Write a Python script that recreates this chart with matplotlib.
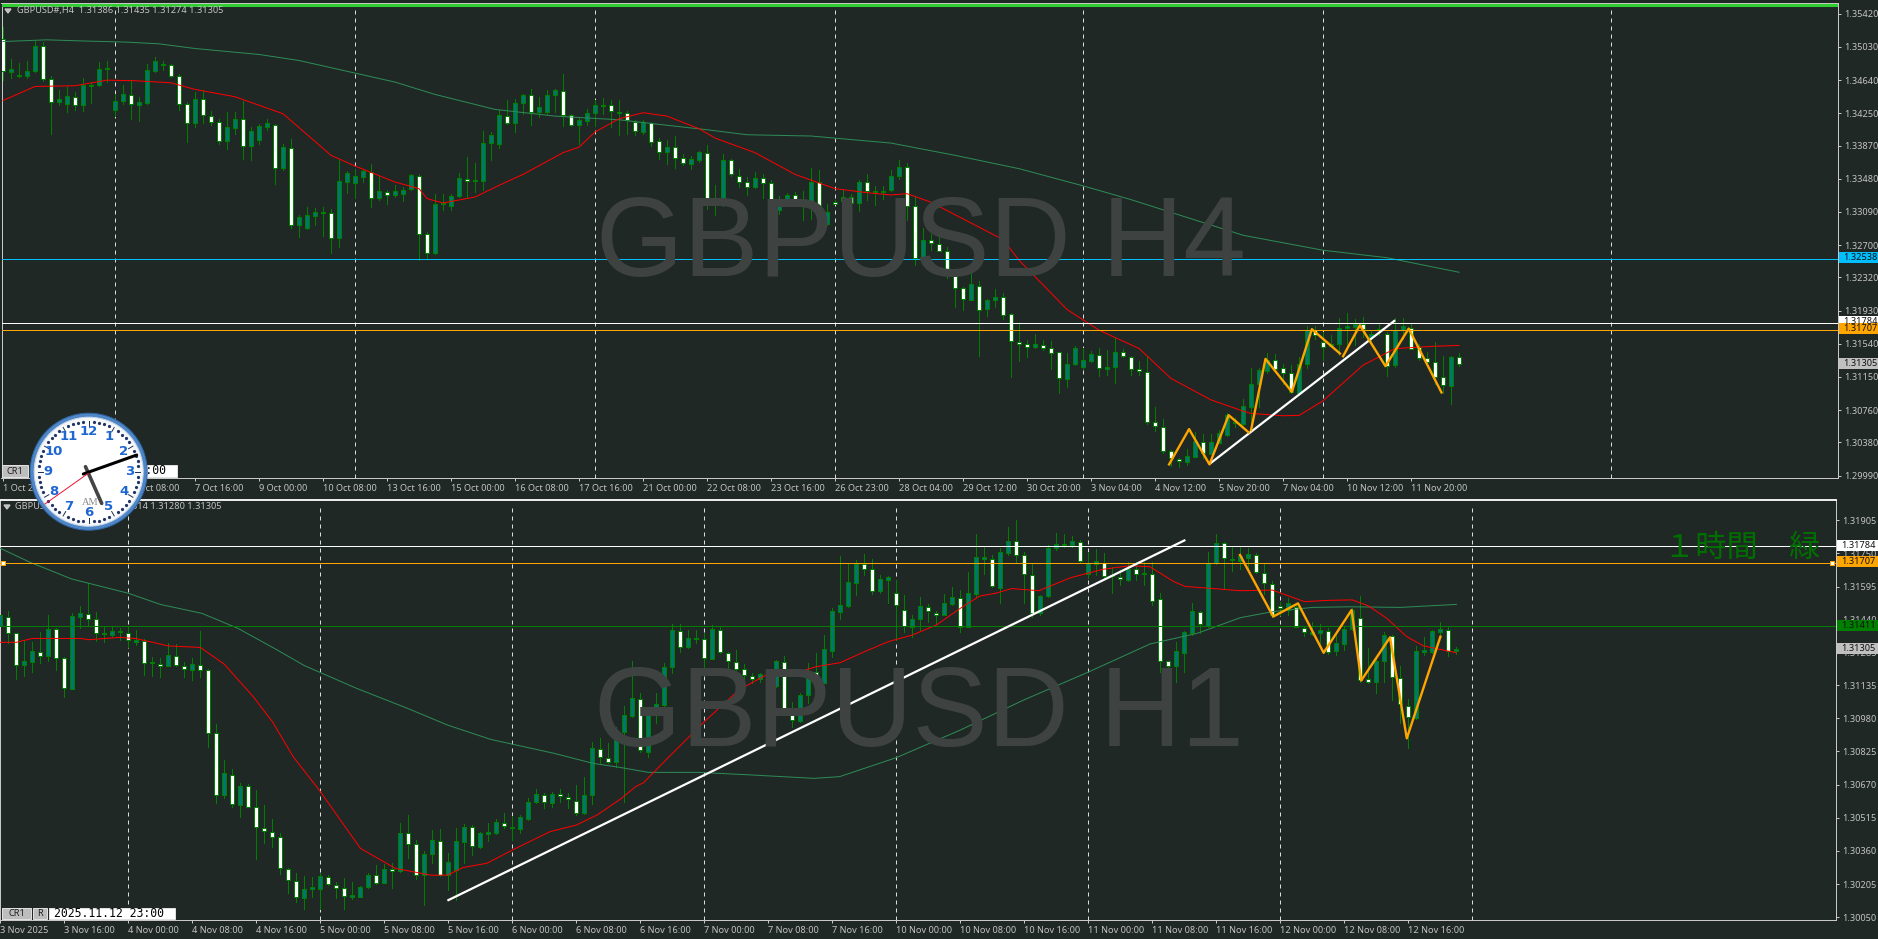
import numpy as np
import matplotlib
matplotlib.use("Agg")
import matplotlib.pyplot as plt
from matplotlib.patches import Circle, Rectangle

W, H = 1878, 939
BG = '#1F2825'
AXC = '#C8C8C8'
LBL = '#C4C4C4'
WICK = '#007F00'
TEAL = '#00786E'
FONT = ['Noto Sans', 'DejaVu Sans']
PX = 0.72  # one pixel in points at dpi 100
FS = 6.6

plt.rcParams['font.family'] = FONT

# all OHLC values are in points above 1.00000
h4_high = [35263,34891,34844,34871,35098,35087,34683,34519,34558,34499,
34668,34617,34848,34860,34480,34578,34644,34441,34832,34910,
34864,34824,34707,34382,34499,34519,34276,34186,34264,34264,
34390,34088,34127,34186,34127,33893,33951,33051,33149,33141,
33149,33129,33697,33568,33599,33599,33658,33513,33344,33403,
33384,33532,33540,32855,33305,33305,33305,33548,33736,33669,
34037,34030,34284,34401,34421,34480,34539,34441,34527,34539,
34715,34237,34206,34304,34401,34433,34409,34401,34272,34167,
34167,34143,33963,33940,33979,33767,33744,33806,33873,33403,
33767,33716,33599,33501,33564,33540,33470,33282,33313,33325,
33333,33611,33587,33180,33227,33344,33305,33470,33532,33391,
33391,33579,33697,33669,33278,32906,32835,32804,32679,32405,
32209,32471,32276,32072,32189,32142,31907,31798,31590,31653,
31583,31571,31446,31426,31512,31485,31457,31485,31465,31614,
31477,31402,31340,31395,30800,30651,30290,30200,30302,30506,
30474,30478,30525,30721,30662,30889,31250,31250,31426,31418,
31300,31289,31387,31747,31747,31680,31641,31845,31907,31837,
31856,31700,31778,31680,31849,31845,31786,31543,31445,31563,
31394,31394,31435]
h4_low = [34636,34668,34676,34668,34734,34629,34002,34343,34264,34284,
34272,34370,34575,34617,34217,34362,34186,34159,34365,34738,
34754,34676,34284,33912,34088,34139,34108,33885,33826,34010,
33712,33697,33885,34049,33415,33587,32902,32796,32894,32933,
32804,32608,32679,33313,33258,33442,33149,33235,33180,33266,
33215,33344,32522,32542,32601,33110,33117,33266,33266,33325,
33344,33697,33846,34127,34030,34245,34108,34206,34245,34264,
34096,34096,33893,34108,34096,34245,34088,33990,34010,33990,
34010,33865,33712,33658,33607,33638,33591,33673,33121,33051,
33160,33513,33384,33286,33372,33251,33090,33070,33168,33200,
32992,33012,32875,32933,33180,33157,33110,33102,33235,33172,
33239,33337,33478,32992,32463,32522,32640,32632,32319,31974,
31943,32052,31395,31872,31974,31833,31152,31336,31387,31485,
31465,31246,30964,31034,31293,31246,31328,31160,31171,31081,
31379,31171,31171,30592,30518,30259,30102,30095,30114,30204,
30192,30239,30369,30459,30557,30584,30525,30799,31199,31238,
31066,30956,30936,31261,31602,31347,31504,31406,31504,31524,
31621,31543,31641,31159,31269,31602,31473,31347,31308,31073,
30956,30831,31274]
h4_open = [35118,34734,34687,34687,34746,35044,34656,34382,34358,34445,
34347,34570,34582,34766,34288,34390,34468,34343,34370,34746,
34813,34820,34691,34362,34135,34421,34217,34151,33924,34077,
34186,33865,33936,34088,34112,33607,33846,32933,32902,33043,
33074,33082,32785,33442,33431,33501,33560,33251,33329,33290,
33301,33356,33517,32835,32608,33180,33160,33278,33481,33450,
33450,33900,33889,34221,34135,34370,34468,34264,34264,34460,
34515,34229,34116,34159,34253,34339,34343,34253,34253,34151,
34030,34135,33924,33791,33853,33724,33654,33701,33783,33196,
33231,33705,33517,33446,33380,33493,33431,33113,33176,33290,
33200,33200,33442,32949,33211,33219,33270,33196,33442,33321,
33325,33348,33513,33618,33156,32546,32757,32714,32632,32338,
32197,32056,32221,31951,32056,32095,31896,31563,31532,31504,
31528,31493,31438,31128,31305,31262,31340,31414,31246,31262,
31446,31387,31238,31211,30623,30565,30283,30189,30149,30212,
30388,30247,30373,30467,30604,30596,30795,31069,31222,31347,
31250,31191,30956,31308,31700,31563,31512,31543,31727,31739,
31778,31621,31700,31661,31289,31700,31727,31504,31375,31328,
31152,31046,31386]
h4_close = [34742,34766,34703,34750,35047,34656,34386,34413,34448,34351,
34582,34582,34773,34785,34398,34472,34362,34378,34754,34860,
34824,34691,34358,34139,34421,34229,34147,33928,34084,34186,
33869,34037,34096,34131,33611,33849,32937,33027,33051,33086,
33086,32789,33450,33544,33509,33568,33258,33341,33294,33333,
33352,33521,32835,32608,33180,33200,33282,33485,33458,33462,
33904,33998,34225,34135,34374,34468,34268,34327,34468,34519,
34229,34116,34174,34257,34343,34351,34272,34264,34167,34045,
34143,33916,33799,33857,33728,33669,33709,33791,33200,33231,
33705,33536,33446,33388,33493,33431,33117,33243,33294,33211,
33211,33446,32957,33094,33188,33270,33200,33446,33341,33341,
33341,33517,33622,33164,32553,32765,32730,32636,32346,32201,
32064,32248,31943,32060,32095,31884,31567,31532,31508,31532,
31496,31430,31132,31308,31496,31344,31418,31250,31262,31449,
31391,31242,31218,30623,30569,30283,30192,30161,30216,30392,
30251,30380,30486,30701,30623,30803,31073,31230,31347,31242,
31191,30975,31308,31700,31641,31508,31543,31731,31747,31778,
31719,31661,31719,31277,31700,31747,31484,31375,31328,31152,
31050,31390,31305]

h1_high = [31486,31483,31380,31346,31338,31383,31462,31400,31268,31470,
31505,31610,31478,31408,31408,31400,31405,31392,31349,31265,
31260,31333,31327,31244,31260,31388,31209,30953,30785,30741,
30676,30671,30645,30574,30507,30442,30278,30258,30243,30239,
30255,30247,30216,30232,30216,30196,30258,30294,30299,30302,
30489,30528,30411,30361,30458,30461,30349,30465,30486,30481,
30450,30492,30509,30535,30523,30528,30606,30648,30629,30637,
30648,30632,30668,30707,30867,30886,30863,30937,31037,31247,
31096,31015,31096,31240,31420,31420,31392,31392,31377,31416,
31408,31291,31299,31233,31190,31190,31198,31252,31271,31057,
31096,31237,31283,31369,31494,31738,31699,31720,31748,31723,
31648,31645,31626,31556,31462,31545,31514,31481,31561,31595,
31579,31665,31840,31782,31743,31774,31872,31907,31759,31699,
31556,31790,31844,31841,31832,31813,31759,31769,31751,31688,
31673,31712,31712,31712,31709,31567,31249,31338,31389,31517,
31483,31759,31840,31805,31782,31779,31774,31751,31704,31621,
31525,31544,31517,31408,31431,31420,31400,31385,31411,31494,
31551,31307,31255,31385,31369,31224,31068,31318,31358,31392,
31431,31408,31314]
h1_low = [31385,31333,31163,31177,31198,31237,31249,31205,31078,31115,
31400,31416,31343,31338,31361,31346,31314,31322,31182,31177,
31171,31224,31224,31174,31159,31174,30847,30585,30606,30567,
30520,30564,30322,30395,30380,30252,30162,30123,30090,30146,
30090,30201,30138,30090,30134,30144,30185,30205,30208,30185,
30263,30325,30229,30107,30302,30243,30177,30130,30302,30341,
30372,30408,30440,30465,30411,30442,30504,30585,30562,30567,
30590,30559,30528,30532,30579,30769,30769,30754,30590,30987,
30824,30800,30956,31015,31193,31291,31310,31333,31213,31255,
31286,31213,31205,31151,31143,31151,31131,31128,31003,30941,
30964,31050,31143,31143,31268,31442,31501,31556,31649,31561,
31564,31517,31346,31385,31358,31392,31431,31420,31462,31509,
31385,31405,31548,31654,31592,31517,31743,31704,31517,31452,
31462,31548,31766,31782,31782,31712,31634,31649,31639,31564,
31603,31623,31626,31603,31509,31198,31198,31151,31198,31369,
31377,31408,31701,31582,31670,31677,31681,31657,31561,31455,
31462,31462,31405,31364,31369,31330,31279,31276,31299,31392,
31151,31146,31099,31151,31065,30956,30839,30975,31276,31286,
31364,31271,31280]
h1_open = [31411,31455,31377,31230,31244,31290,31272,31396,31260,31118,
31455,31469,31442,31380,31371,31385,31380,31338,31339,31237,
31235,31226,31272,31226,31207,31230,31204,30913,30620,30716,
30576,30662,30567,30468,30450,30423,30277,30221,30141,30180,
30183,30239,30202,30185,30146,30146,30190,30249,30211,30274,
30264,30442,30391,30247,30345,30408,30247,30271,30403,30473,
30380,30440,30442,30492,30465,30464,30511,30588,30623,30585,
30627,30613,30595,30539,30623,30838,30796,30777,30914,30992,
31071,30824,31015,31042,31218,31389,31314,31349,31352,31258,
31394,31286,31244,31210,31179,31162,31180,31132,31244,31018,
30969,31087,31198,31146,31296,31478,31506,31614,31701,31676,
31573,31628,31567,31487,31405,31442,31501,31473,31464,31515,
31544,31408,31562,31726,31726,31590,31754,31807,31743,31651,
31470,31553,31777,31790,31790,31805,31654,31699,31704,31645,
31642,31626,31676,31653,31654,31539,31249,31226,31286,31380,
31478,31410,31704,31801,31726,31716,31730,31744,31660,31609,
31506,31486,31498,31403,31374,31377,31389,31296,31329,31399,
31450,31162,31151,31249,31366,31170,31039,30980,31291,31291,
31385,31392,31296]
h1_close = [31462,31377,31227,31246,31293,31269,31396,31260,31120,31456,
31470,31444,31378,31372,31386,31388,31346,31346,31237,31241,
31224,31274,31227,31209,31232,31204,30909,30620,30722,30578,
30662,30567,30470,30451,30423,30278,30222,30143,30182,30190,
30241,30204,30185,30148,30154,30190,30247,30208,30274,30264,
30442,30392,30246,30345,30412,30246,30310,30405,30473,30383,
30442,30447,30493,30476,30470,30517,30588,30624,30588,30624,
30615,30602,30537,30620,30839,30797,30777,30905,30995,31073,
30830,31011,31045,31218,31391,31313,31353,31355,31260,31396,
31290,31246,31209,31180,31162,31185,31134,31246,31023,30972,
31087,31199,31149,31302,31480,31508,31615,31701,31677,31573,
31629,31639,31509,31411,31442,31503,31480,31462,31517,31545,
31408,31564,31732,31732,31598,31755,31807,31743,31654,31470,
31553,31777,31793,31794,31807,31715,31704,31713,31643,31649,
31631,31676,31654,31657,31528,31249,31226,31293,31381,31480,
31419,31704,31797,31727,31720,31738,31746,31662,31610,31462,
31494,31517,31408,31381,31385,31391,31291,31330,31399,31486,
31159,31151,31249,31367,31171,31047,30984,31296,31299,31386,
31396,31294,31305]

# moving averages, read at these bars
h4_red_x = [0,4,9,13,16.5,21,24,29,35,41,44,49,52,53,55,59,62,65,70,72,74,77,80,83,87,89,94,99,104,108,111,113,116,125,127,133,137,142,146,151,155,156,160,162,165,170,174,179,182]
h4_red_y = [34401,34566,34574,34640,34633,34609,34531,34445,34245,33756,33630,33442,33364,33247,33196,33266,33403,33532,33787,33853,34030,34186,34257,34217,34069,33959,33787,33532,33364,33317,33290,33305,33204,32765,32522,31943,31700,31485,31132,30880,30749,30721,30694,30698,30870,31289,31484,31512,31520]
h4_grn_x = [0,5.5,9.5,15.5,19.5,24,32,37,44,49,54,61.5,69,77,82,88,93,101,111,119,127,135,141,155,165,173,182]
h4_grn_y = [35094,35114,35102,35087,35067,35012,34942,34871,34723,34617,34472,34296,34217,34174,34120,34057,33998,33983,33900,33756,33599,33397,33235,32816,32640,32552,32381]
h1_red_x = [0,2,4,10,11,15,17,21,25,28,31.6,34,36.6,40,42.5,45,49.4,53.9,55.9,57.8,60.8,64,68.7,72,74.6,77.5,79.4,80.4,83.4,88,92.3,95.7,97.2,99.2,102,105,108,111,114,117,120,122.4,124.4,126.4,129.8,133.8,137.8,141.2,143.7,146.7,148.1,151.6,155,159,163,166,169,171,173.3,175.8,177.9,182]
h1_red_y = [31335,31335,31353,31353,31347,31358,31352,31318,31311,31232,31081,30964,30800,30637,30504,30372,30278,30246,30247,30282,30302,30364,30450,30481,30528,30602,30660,30679,30793,30964,31112,31182,31196,31190,31221,31240,31291,31338,31369,31416,31494,31551,31564,31586,31576,31637,31676,31693,31688,31618,31596,31586,31576,31579,31525,31531,31533,31505,31447,31361,31318,31286]
h1_grn_x = [0,3.7,8.9,16,20,25.2,29.7,34.6,38,44.5,50.9,55.9,61.3,69.2,74.1,77.5,81,87.3,93.8,101.7,104.9,112,120,127.9,131.8,136,143.7,149.6,155,159,164,168.8,175,182]
h1_grn_y = [31774,31709,31631,31564,31512,31470,31400,31299,31226,31120,31026,30948,30881,30816,30769,30750,30727,30727,30715,30699,30707,30796,30925,31065,31128,31196,31327,31377,31450,31478,31498,31501,31498,31512]

# zigzags and trendlines
h4_zig1_x = [145.75,148.25,150.8,153.2,155.7]
h4_zig1_y = [30122,30537,30122,30701,30498]
h4_zig2_x = [156,157.8,161.1,163.6,167.1]
h4_zig2_y = [30525,31363,30975,31712,31426]
h4_zig3_x = [167.5,169.6,172.8,175.7,179.8]
h4_zig3_y = [31394,31758,31277,31719,30968]
h4_trend_x = [150.9,173.9]
h4_trend_y = [30134,31809]
h1_zig_x = [154.95,159.1,162.2,165.4,168.9,170.1,173.7,175.8,180]
h1_zig_y = [31743,31455,31517,31286,31486,31156,31358,30886,31361]
h1_trend_x = [56,148]
h1_trend_y = [30130,31811]

h4_levels = [1.32538, 1.31784, 1.31707]
h1_levels = [1.31784, 1.31707, 1.31411]

h4_yticks = [1.35420,1.35030,1.34640,1.34250,1.33870,1.33480,1.33090,1.32700,1.32320,1.31930,1.31540,1.31150,1.30760,1.30380,1.29990]
h1_yticks = [1.31905,1.31750,1.31595,1.31440,1.31285,1.31135,1.30980,1.30825,1.30670,1.30515,1.30360,1.30205,1.30050]

h4_xticks = [0,8,16,24,32,40,48,56,64,72,80,88,96,104,112,120,128,136,144,152,160,168,176]
h4_xlabels = ['1 Oct 2025','2 Oct 16:00','6 Oct 08:00','7 Oct 16:00','9 Oct 00:00','10 Oct 08:00','13 Oct 16:00','15 Oct 00:00','16 Oct 08:00','17 Oct 16:00','21 Oct 00:00','22 Oct 08:00','23 Oct 16:00','26 Oct 23:00','28 Oct 04:00','29 Oct 12:00','30 Oct 20:00','3 Nov 04:00','4 Nov 12:00','5 Nov 20:00','7 Nov 04:00','10 Nov 12:00','11 Nov 20:00']
h4_vlines = [14,44,74,104,135,165,201]

h1_xticks = list(range(0, 184, 8))
h1_xlabels = ['3 Nov 2025','3 Nov 16:00','4 Nov 00:00','4 Nov 08:00','4 Nov 16:00','5 Nov 00:00','5 Nov 08:00','5 Nov 16:00','6 Nov 00:00','6 Nov 08:00','6 Nov 16:00','7 Nov 00:00','7 Nov 08:00','7 Nov 16:00','10 Nov 00:00','10 Nov 08:00','10 Nov 16:00','11 Nov 00:00','11 Nov 08:00','11 Nov 16:00','12 Nov 00:00','12 Nov 08:00','12 Nov 16:00']
h1_vlines = [16,40,64,88,112,136,160,184]


def pts(values):
    return 1 + np.array(values) / 1e5


def make_axes(fig, left, right, top, bottom, xlim, ylim):
    ax = fig.add_axes([left / W, 1 - bottom / H, (right - left) / W, (bottom - top) / H])
    ax.set_facecolor(BG)
    ax.set_xlim(*xlim)
    ax.set_ylim(*ylim)
    for s in ax.spines.values():
        s.set_color(AXC)
        s.set_linewidth(PX)
    ax.yaxis.tick_right()
    ax.tick_params(axis='y', colors=AXC, labelcolor=LBL, length=2.5, width=PX, pad=2, labelsize=FS)
    ax.tick_params(axis='x', colors=AXC, labelcolor=LBL, length=2.5, width=PX, pad=1.5, labelsize=FS)
    return ax


def candles(ax, o, h, l, c):
    o, h, l, c = pts(o), pts(h), pts(l), pts(c)
    x = np.arange(len(o))
    ax.vlines(x, l, h, color=WICK, linewidth=PX, zorder=2, antialiased=False)
    up = c >= o
    ax.bar(x[up], (c - o)[up], bottom=o[up], width=0.5, color=TEAL, edgecolor='#008000',
           linewidth=PX, zorder=3, antialiased=False)
    ax.bar(x[~up], (o - c)[~up], bottom=c[~up], width=0.5, color='white', edgecolor='#008000',
           linewidth=PX, zorder=3, antialiased=False)


def price_tag(ax, price, label, fc, x0, y0, y1, tc='#101010'):
    fig.add_artist(Rectangle((x0 / W, 1 - y1 / H), (W - x0) / W, (y1 - y0) / H, transform=fig.transFigure,
                             facecolor=fc, edgecolor='none', zorder=6))
    fig.text((x0 + 4) / W, 1 - (y0 + y1) / 2 / H, label, color=tc, fontsize=FS, va='center', zorder=7)


def px_text(x, y, s, **kw):
    kw.setdefault('va', 'center')
    kw.setdefault('color', LBL)
    kw.setdefault('fontsize', FS)
    return fig.text(x / W, 1 - y / H, s, **kw)


fig = plt.figure(figsize=(W / 100, H / 100), dpi=100, facecolor=BG)

# H4 panel
ax1 = make_axes(fig, 1.5, 1837.5, 2.5, 478, (-0.19, 229.3), (1.29962, 1.35553))
for v in h4_vlines:
    ax1.axvline(v, color='#DCDCDC', linewidth=PX, linestyle=(0, (4, 4)), zorder=1, ymin=0, ymax=0.985)
px_text(596, 247, 'GBPUSD H4', family=['Liberation Sans'], fontsize=81, color='#3E4341', zorder=0.5)
candles(ax1, h4_open, h4_high, h4_low, h4_close)
ax1.plot(h4_grn_x, pts(h4_grn_y), color='#2E8B57', linewidth=PX, zorder=4)
ax1.plot(h4_red_x, pts(h4_red_y), color='#FF0000', linewidth=PX, zorder=4)
ax1.axhline(h4_levels[0], color='#00BFFF', linewidth=PX, zorder=4)
ax1.axhline(h4_levels[1], color='white', linewidth=PX, zorder=4)
ax1.axhline(h4_levels[2], color='#FFA500', linewidth=PX, zorder=4)
ax1.axhline(1.35523, color='#32CD32', linewidth=2.2, zorder=4)
ax1.plot(h4_trend_x, pts(h4_trend_y), color='white', linewidth=1.6, zorder=5)
for zx, zy in [(h4_zig1_x, h4_zig1_y), (h4_zig2_x, h4_zig2_y), (h4_zig3_x, h4_zig3_y)]:
    ax1.plot(zx, pts(zy), color='#FFA500', linewidth=1.7, zorder=6)
ax1.set_yticks(h4_yticks)
ax1.set_yticklabels([f'{t:.5f}' for t in h4_yticks])
ax1.set_xticks(h4_xticks)
ax1.set_xticklabels(h4_xlabels, ha='left')

# H1 panel
ax2 = make_axes(fig, 0, 1836, 500, 920, (-0.05, 229.45), (1.30037, 1.32))
ax2.spines['top'].set_linewidth(1.4)
ax2.spines['top'].set_color('#F0F0F0')
for v in h1_vlines:
    ax2.axvline(v, color='#DCDCDC', linewidth=PX, linestyle=(0, (4, 4)), zorder=1, ymin=0, ymax=0.985)
px_text(594, 717, 'GBPUSD H1', family=['Liberation Sans'], fontsize=81, color='#3E4341', zorder=0.5)
candles(ax2, h1_open, h1_high, h1_low, h1_close)
ax2.plot(h1_grn_x, pts(h1_grn_y), color='#2E8B57', linewidth=PX, zorder=4)
ax2.plot(h1_red_x, pts(h1_red_y), color='#FF0000', linewidth=PX, zorder=4)
ax2.axhline(h1_levels[0], color='white', linewidth=PX, zorder=4)
ax2.axhline(h1_levels[1], color='#FFA500', linewidth=PX, zorder=4)
ax2.axhline(h1_levels[2], color='#007F00', linewidth=PX, zorder=4)
ax2.plot(h1_trend_x, pts(h1_trend_y), color='white', linewidth=1.6, zorder=5)
ax2.plot(h1_zig_x, pts(h1_zig_y), color='#FFA500', linewidth=1.7, zorder=6)
ax2.plot([0.35, 228.9], [h1_levels[1], h1_levels[1]], linestyle='none', marker='s', markersize=3.5,
         markerfacecolor='white', markeredgecolor='#FFA500', markeredgewidth=PX, zorder=7, clip_on=False)
ax2.set_yticks(h1_yticks)
ax2.set_yticklabels([f'{t:.5f}' for t in h1_yticks])
ax2.set_xticks(h1_xticks)
ax2.set_xticklabels(h1_xlabels, ha='left')
px_text(1664, 548, '１時間　緑', family=['Noto Sans CJK JP', 'DejaVu Sans'], fontsize=22.5, color='#006F00', zorder=5)

# tags on the price scales
price_tag(ax1, h4_levels[0], '1.32538', '#00BFFF', 1839, 252.3, 263)
price_tag(ax1, h4_levels[1], '1.31784', 'white', 1839, 316, 327)
price_tag(ax1, h4_levels[2], '1.31707', '#FFA500', 1839, 323.3, 334)
price_tag(ax1, 1.31305, '1.31305', '#C0C0C0', 1839, 358, 368.7)
price_tag(ax2, h1_levels[0], '1.31784', 'white', 1837, 540, 551)
price_tag(ax2, h1_levels[1], '1.31707', '#FFA500', 1837, 556, 567)
price_tag(ax2, h1_levels[2], '1.31411', '#007F00', 1837, 620.3, 631)
price_tag(ax2, 1.31305, '1.31305', '#C0C0C0', 1837, 643, 653.7)

# overlay in pixel coordinates: headers, buttons, clock
ov = fig.add_axes([0, 0, 1, 1], zorder=10)
ov.set_xlim(0, W)
ov.set_ylim(H, 0)
ov.axis('off')
ov.patch.set_alpha(0)

ov.text(17, 10.5, 'GBPUSD#,H4  1.31386 1.31435 1.31274 1.31305', color=LBL, fontsize=FS, va='center')
ov.text(15, 507, 'GBPUSD#,H1  1.31296 1.31314 1.31280 1.31305', color=LBL, fontsize=FS, va='center')
ov.fill([5, 11, 8], [9, 9, 13], color=LBL)
ov.fill([4, 10, 7], [505, 505, 509], color=LBL)

for x0, x1, y0, y1, s in [(2, 28, 465, 477, 'CR1'), (2, 31, 908, 919, 'CR1'), (33, 47, 908, 919, 'R')]:
    ov.add_patch(Rectangle((x0, y0), x1 - x0, y1 - y0, facecolor='#BDBDBD', edgecolor='#E0E0E0', linewidth=PX))
    ov.text((x0 + x1) / 2, (y0 + y1) / 2, s, color='#202020', fontsize=FS, ha='center', va='center')
for x0, x1, y0, y1, s in [(30, 177, 465, 477, '2025.11.12 20:00'), (49, 175, 908, 919, '2025.11.12 23:00')]:
    ov.add_patch(Rectangle((x0, y0), x1 - x0, y1 - y0, facecolor='white', edgecolor='#E0E0E0', linewidth=PX))
    ov.text(x1 - 11, (y0 + y1) / 2, s, color='black', fontsize=8.3, family='DejaVu Sans Mono', ha='right', va='center')

# clock sits over everything else in the overlay
cx, cy = 88.7, 471.7
ov.add_patch(Circle((cx, cy), 58.5, facecolor='#4F86C6', edgecolor='#2F66A8', linewidth=PX, zorder=20))
ov.add_patch(Circle((cx, cy), 54.5, facecolor='#F4F6F8', edgecolor='#C8D8EC', linewidth=PX, zorder=20))
ov.add_patch(Circle((cx, cy), 51, facecolor='white', edgecolor='none', zorder=20))
for m in range(60):
    a = np.radians(m * 6)
    if m % 5 == 0:
        ov.plot([cx + 46 * np.sin(a), cx + 51 * np.sin(a)], [cy - 46 * np.cos(a), cy - 51 * np.cos(a)],
                color='#223355', linewidth=PX, zorder=21)
    else:
        ov.plot(cx + 50 * np.sin(a), cy - 50 * np.cos(a), marker='o', markersize=1.3, color='#223366', zorder=21)
for n in range(1, 13):
    a = np.radians(n * 30)
    ov.text(cx + 40.5 * np.sin(a), cy - 40.5 * np.cos(a), str(n), color='#1E66D0', fontsize=9.5, fontweight='bold',
            family='DejaVu Sans', ha='center', va='center', zorder=22)
ov.text(cx + 1.5, 502.5, 'AM', color='#8A8A8A', fontsize=7.5, family='Liberation Serif', ha='center', va='center', zorder=22)
ov.plot([85.5, 101.7], [466.7, 503.4], color='#444444', linewidth=2.6, solid_capstyle='round', zorder=23)
ov.plot([83.3, 136.7], [474, 455], color='black', linewidth=2.2, solid_capstyle='round', zorder=23)
ov.plot([88.3, 45], [473.3, 504], color='#F01030', linewidth=0.7, zorder=23)

fig.savefig('out.png', dpi=100, facecolor=BG)
